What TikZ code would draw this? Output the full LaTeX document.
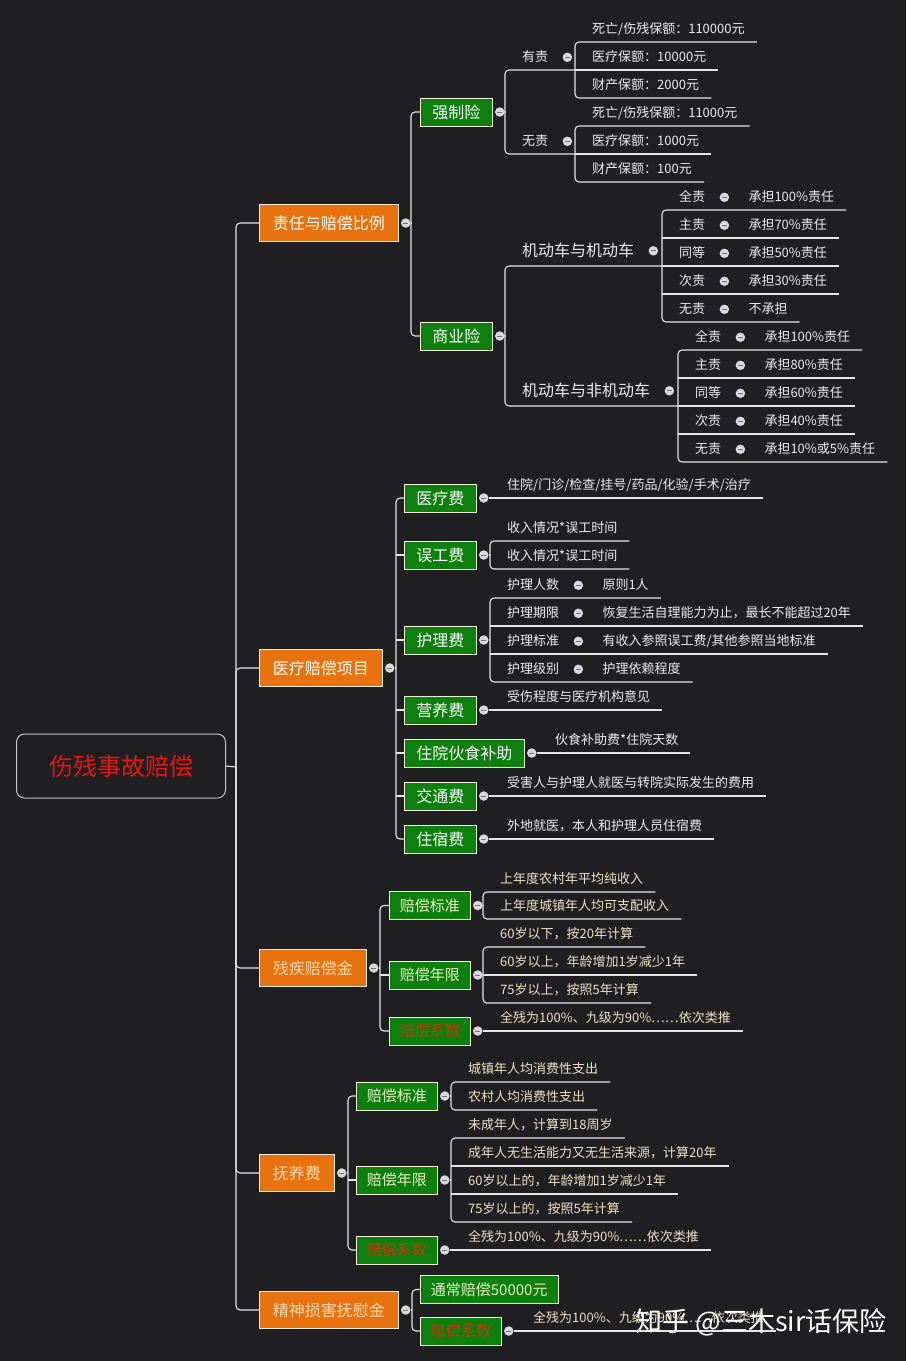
\documentclass[tikz,border=0pt]{standalone}
\usepackage{fontspec}
\setmainfont{Noto Sans CJK SC}
\usetikzlibrary{positioning,calc}
\usepackage{xcolor}
\definecolor{fondo}{HTML}{1F1F21}
\definecolor{naranja}{HTML}{E8730E}
\definecolor{verde}{HTML}{0C7F0C}
\definecolor{gris}{HTML}{E4E4E4}
\definecolor{grisborde}{HTML}{C4C4C4}
\definecolor{borde}{HTML}{F2F0DC}
\definecolor{rojo}{HTML}{E8150E}
\definecolor{blanco}{HTML}{ECECEC}
\definecolor{crema}{HTML}{EEE2C6}
\definecolor{arena}{HTML}{F6DAB4}
\definecolor{verdeclaro}{HTML}{E6F2C4}
\definecolor{ladrillo}{HTML}{C23A0A}
\definecolor{botonc}{HTML}{D8D8E0}

\begin{document}
\begin{tikzpicture}[x=1pt, y=-1pt,
  linea/.style={gris, line width=1.1pt},
  curva/.style={linea, rounded corners=4pt},
  raiz/.style={draw=grisborde, line width=1pt, rounded corners=8pt, minimum width=209pt, minimum height=64pt,
    text=rojo, text height=21pt, text depth=3pt, font=\fontsize{24}{24}\selectfont},
  rama/.style={anchor=west, fill=naranja, draw=borde, line width=0.8pt, minimum height=37pt, inner xsep=13.5pt,
    inner ysep=0pt, text height=14pt, text depth=2pt, text=white, font=\fontsize{16}{16}\selectfont},
  caja/.style={anchor=west, fill=verde, draw=borde, line width=0.8pt, minimum height=28pt, inner xsep=12pt,
    inner ysep=0pt, text height=14pt, text depth=2pt, text=white, font=\fontsize{16}{16}\selectfont},
  cajita/.style={caja, inner xsep=10.5pt, text height=13pt, text depth=2pt, text=verdeclaro, font=\fontsize{15}{15}\selectfont},
  hoja/.style={anchor=south west, inner xsep=0pt, inner ysep=2pt, text height=15pt, text depth=6pt, text=blanco,
    font=\fontsize{13}{13}\selectfont, execute at begin node={\hspace*{17pt}}, execute at end node={\hspace*{12pt}}},
  hojac/.style={hoja, text=crema},
  hojagrande/.style={hoja, text height=19pt, text depth=7pt, font=\fontsize{16}{16}\selectfont},
  boton/.style={circle, fill=botonc, minimum size=9.5pt, inner sep=0pt,
    path picture={\draw[black!55, line width=0.9pt] ([xshift=-2.3pt]path picture bounding box.center) -- ([xshift=2.3pt]path picture bounding box.center);}},
]
\fill[fondo] (0,0) rectangle (906,1361);

% raiz y tronco
\node[raiz] (raiz) at (121,766) {伤残事故赔偿};
\coordinate (tr) at (236,767);
\draw[linea] (raiz.east) -- (tr);

\node[rama] (zr) at (259,223) {责任与赔偿比例};
\node[rama] (yl) at (259,668) {医疗赔偿项目};
\node[rama, text=arena] (cj) at (259,968) {残疾赔偿金};
\node[rama, text=arena] (fy) at (259,1173) {抚养费};
\node[rama, text=arena] (js) at (259,1310) {精神损害抚慰金};
\foreach \r in {zr,yl,cj,fy,js} {
  \draw[curva] (tr) -- (tr |- \r.west) -- (\r.west);
  \node[boton, right=2pt of \r] (\r-b) {};
}

%責任与赔偿比例
\coordinate (s1) at (411,223);
\draw[linea] (zr-b.east) -- (s1);
\node[caja] (qz) at (420,112) {强制险};
\node[caja] (sy) at (420,336) {商业险};
\draw[curva] (qz.west) -- (qz.west -| s1) -- (sy.west -| s1) -- (sy.west);
\node[boton, right=2pt of qz] (qz-b) {};
\node[boton, right=2pt of sy] (sy-b) {};

% 强制险
\node[hoja] (yz) at (505,70) {有责};
\node[hoja] (wz) at (505,154) {无责};
\node[boton, right=2pt of yz] (yz-b) {};
\node[boton, right=2pt of wz] (wz-b) {};
\draw[linea] (qz-b.east) -- (qz-b.east -| yz.south west);
\node[hoja] (yz1) at (575,42) {死亡/伤残保额：110000元};
\node[hoja] (yz2) at (575,70) {医疗保额：10000元};
\node[hoja] (yz3) at (575,98) {财产保额：2000元};
\node[hoja] (wz1) at (575,126) {死亡/伤残保额：11000元};
\node[hoja] (wz2) at (575,154) {医疗保额：1000元};
\node[hoja] (wz3) at (575,182) {财产保额：100元};
\draw[curva] (yz2.south west) -- (yz.south west) -- (wz.south west) -- (wz2.south west);
\foreach \p in {yz,wz} {
  \draw[curva] (\p1.south east) -- (\p1.south west) -- (\p3.south west) -- (\p3.south east);
  \draw[linea] (\p2.south west) -- (\p2.south east);
}

% 商业险
\node[hojagrande] (jj) at (505,266) {机动车与机动车};
\node[hojagrande] (jf) at (505,406) {机动车与非机动车};
\node[boton, right=2pt of jj] (jj-b) {};
\node[boton, right=2pt of jf] (jf-b) {};
\draw[linea] (sy-b.east) -- (sy-b.east -| jj.south west);
\foreach \g/\r [count=\i from 0] in {全责/承担100\%责任, 主责/承担70\%责任, 同等/承担50\%责任, 次责/承担30\%责任, 无责/不承担} {
  \node[hoja] (ja\i) at (662,210+28*\i) {\g};
  \node[boton, right=2pt of ja\i] (jb\i) {};
  \node[hoja, right=2pt of jb\i] (jc\i) {\r};
}
\foreach \g/\r [count=\i from 0] in {全责/承担100\%责任, 主责/承担80\%责任, 同等/承担60\%责任, 次责/承担40\%责任, 无责/承担10\%或5\%责任} {
  \node[hoja] (ka\i) at (678,350+28*\i) {\g};
  \node[boton, right=2pt of ka\i] (kb\i) {};
  \node[hoja, right=2pt of kb\i] (kc\i) {\r};
}
\draw[curva] (ja2.south west) -- (jj.south west) -- (jf.south west) -- (ka2.south west);
\foreach \p in {j,k} {
  \draw[curva] (\p c0.south east) -- (\p a0.south west) -- (\p a4.south west) -- (\p c4.south east);
  \foreach \i in {1,2,3} \draw[linea] (\p a\i.south west) -- (\p c\i.south east);
}

% 医疗赔偿项目
\coordinate (s2) at (396,668);
\draw[linea] (yl-b.east) -- (s2);
\foreach \n/\t/\y in {yf/医疗费/498, wg/误工费/555, hl/护理费/640, yy/营养费/710, hs/住院伙食补助/753, jt/交通费/796, zs/住宿费/839} {
  \node[caja] (\n) at (404,\y) {\t};
  \node[boton, right=2pt of \n] (\n-b) {};
}
\draw[curva] (yf.west) -- (yf.west -| s2) -- (zs.west -| s2) -- (zs.west);
\foreach \n in {wg,hl,yy,hs,jt} \draw[linea] (\n.west) -- (\n.west -| s2);

\node[hoja] (yf1) at (490,498) {住院/门诊/检查/挂号/药品/化验/手术/治疗};
\node[hoja] (wg1) at (490,541) {收入情况*误工时间};
\node[hoja] (wg2) at (490,569) {收入情况*误工时间};
\draw[curva] (wg1.south east) -- (wg1.south west) -- (wg2.south west) -- (wg2.south east);
\draw[linea] (wg-b.east) -- (wg-b.east -| wg1.south west);
\foreach \g/\r [count=\i from 1] in {护理人数/原则1人, 护理期限/恢复生活自理能力为止，最长不能超过20年,
    护理标准/有收入参照误工费\slash 其他参照当地标准, 护理级别/护理依赖程度} {
  \node[hoja] (hla\i) at (490,570+28*\i) {\g};
  \node[boton, right=2pt of hla\i] (hlb\i) {};
  \node[hoja, right=2pt of hlb\i] (hlc\i) {\r};
}
\draw[curva] (hlc1.south east) -- (hla1.south west) -- (hla4.south west) -- (hlc4.south east);
\foreach \i in {2,3} \draw[linea] (hla\i.south west) -- (hlc\i.south east);
\draw[linea] (hl-b.east) -- (hl-b.east -| hla1.south west);
\node[hoja] (yy1) at (490,710) {受伤程度与医疗机构意见};
\node[hoja] (hs1) at (538,753) {伙食补助费*住院天数};
\node[hoja] (jt1) at (490,796) {受害人与护理人就医与转院实际发生的费用};
\node[hoja] (zs1) at (490,839) {外地就医，本人和护理人员住宿费};
\foreach \n in {yf,yy,hs,jt,zs} \draw[linea] (\n-b.east) -- (\n1.south east);

% 残疾赔偿金
\coordinate (s3) at (380,968);
\draw[linea] (cj-b.east) -- (s3);
\node[cajita] (cb) at (389,905.5) {赔偿标准};
\node[cajita] (cn) at (389,975) {赔偿年限};
\node[cajita, text=ladrillo] (cx) at (389,1031) {赔偿系数};
\draw[curva] (cb.west) -- (cb.west -| s3) -- (cx.west -| s3) -- (cx.west);
\draw[linea] (cn.west) -- (cn.west -| s3);
\foreach \n in {cb,cn,cx} \node[boton, right=2pt of \n] (\n-b) {};
\node[hojac] (cb1) at (483,892) {上年度农村年平均纯收入};
\node[hojac] (cb2) at (483,919) {上年度城镇年人均可支配收入};
\node[hojac] (cn1) at (483,947) {60岁以下，按20年计算};
\node[hojac] (cn2) at (483,975) {60岁以上，年龄增加1岁减少1年};
\node[hojac] (cn3) at (483,1003) {75岁以上，按照5年计算};
\node[hojac] (cx1) at (483,1031) {全残为100\%、九级为90\%……依次类推};
\draw[curva] (cb1.south east) -- (cb1.south west) -- (cb2.south west) -- (cb2.south east);
\draw[curva] (cn1.south east) -- (cn1.south west) -- (cn3.south west) -- (cn3.south east);
\draw[linea] (cn2.south west) -- (cn2.south east);
\draw[linea] (cb-b.east) -- (cb-b.east -| cb1.south west);
\draw[linea] (cn-b.east) -- (cn2.south west);
\draw[linea] (cx-b.east) -- (cx1.south east);

% 抚养费
\coordinate (s4) at (348,1173);
\draw[linea] (fy-b.east) -- (s4);
\node[cajita] (fb) at (356,1096) {赔偿标准};
\node[cajita] (fn) at (356,1180) {赔偿年限};
\node[cajita, text=ladrillo] (fx) at (356,1250) {赔偿系数};
\draw[curva] (fb.west) -- (fb.west -| s4) -- (fx.west -| s4) -- (fx.west);
\draw[linea] (fn.west) -- (fn.west -| s4);
\foreach \n in {fb,fn,fx} \node[boton, right=2pt of \n] (\n-b) {};
\node[hojac] (fb1) at (451,1082) {城镇年人均消费性支出};
\node[hojac] (fb2) at (451,1110) {农村人均消费性支出};
\node[hojac] (fn1) at (451,1138) {未成年人，计算到18周岁};
\node[hojac] (fn2) at (451,1166) {成年人无生活能力又无生活来源，计算20年};
\node[hojac] (fn3) at (451,1194) {60岁以上的，年龄增加1岁减少1年};
\node[hojac] (fn4) at (451,1222) {75岁以上的，按照5年计算};
\node[hojac] (fx1) at (451,1250) {全残为100\%、九级为90\%……依次类推};
\draw[curva] (fb1.south east) -- (fb1.south west) -- (fb2.south west) -- (fb2.south east);
\draw[curva] (fn1.south east) -- (fn1.south west) -- (fn4.south west) -- (fn4.south east);
\foreach \i in {2,3} \draw[linea] (fn\i.south west) -- (fn\i.south east);
\draw[linea] (fb-b.east) -- (fb-b.east -| fb1.south west);
\draw[linea] (fn-b.east) -- (fn-b.east -| fn1.south west);
\draw[linea] (fx-b.east) -- (fx1.south east);

% 精神损害抚慰金
\coordinate (s5) at (412,1310);
\draw[linea] (js-b.east) -- (s5);
\node[cajita] (tc) at (420,1289.5) {通常赔偿50000元};
\node[cajita, text=ladrillo] (jx) at (420,1331) {赔偿系数};
\draw[curva] (tc.west) -- (tc.west -| s5) -- (jx.west -| s5) -- (jx.west);
\node[boton, right=2pt of jx] (jx-b) {};
\node[hojac] (jx1) at (516,1331) {全残为100\%、九级为90\%……依次类推};
\draw[linea] (jx-b.east) -- (jx1.south east);

\node[anchor=west, text=white, font=\fontsize{27}{27}\selectfont] (marca) at (632,1322) {知乎 @三木sir话保险};
\end{tikzpicture}
\end{document}
